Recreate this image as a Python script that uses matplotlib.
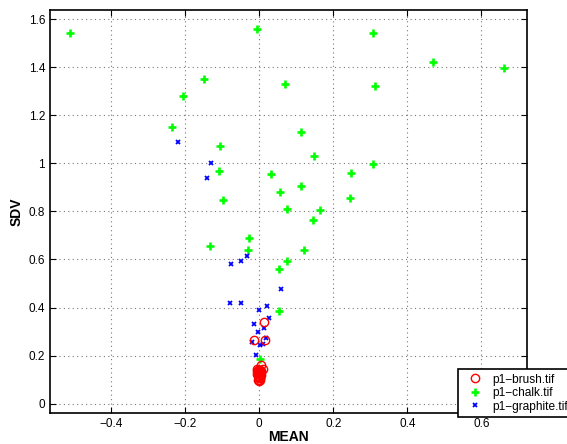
import matplotlib
matplotlib.use('Agg')
import matplotlib.pyplot as plt

plt.rcParams['font.family'] = ['Liberation Sans', 'DejaVu Sans']

# p1-brush.tif
brush_mean = [0.014, -0.013, 0.016, 0.005, 0.011, -0.007,
              -0.006, -0.004, -0.002, 0.0, 0.002, 0.004, 0.006,
              -0.005, -0.003, -0.001, 0.001, 0.003, 0.005,
              -0.004, -0.002, 0.0, 0.002, 0.003, -0.003, 0.0, 0.001]
brush_sdv = [0.339, 0.264, 0.264, 0.162, 0.143, 0.143,
             0.135, 0.138, 0.140, 0.136, 0.139, 0.134, 0.130,
             0.125, 0.128, 0.122, 0.126, 0.120, 0.118,
             0.115, 0.110, 0.112, 0.106, 0.108, 0.100, 0.094, 0.099]

# p1-chalk.tif
chalk_mean = [-0.511, -0.005, 0.306, 0.470, 0.660, -0.149, 0.069, 0.313,
              -0.207, -0.235, 0.114, -0.106, 0.149, 0.306, -0.108, 0.033,
              0.248, 0.057, 0.114, 0.246, -0.098, 0.075, 0.163, 0.144,
              -0.133, -0.028, 0.121, -0.030, 0.054, 0.075, 0.054, 0.002]
chalk_sdv = [1.541, 1.559, 1.541, 1.420, 1.398, 1.349, 1.330, 1.320,
             1.280, 1.150, 1.131, 1.071, 1.032, 0.996, 0.967, 0.954,
             0.961, 0.879, 0.904, 0.854, 0.847, 0.810, 0.804, 0.765,
             0.657, 0.690, 0.638, 0.639, 0.559, 0.594, 0.387, 0.185]

# p1-graphite.tif
graphite_mean = [-0.220, -0.129, -0.141, -0.034, -0.049, -0.077, 0.059,
                 -0.080, -0.049, 0.020, -0.002, 0.027, -0.015, 0.014,
                 -0.004, -0.019, 0.017, 0.001, 0.010, -0.009]
graphite_sdv = [1.090, 1.003, 0.940, 0.616, 0.595, 0.581, 0.477,
                0.420, 0.420, 0.408, 0.391, 0.356, 0.333, 0.316,
                0.298, 0.258, 0.272, 0.243, 0.247, 0.201]

fig = plt.figure(figsize=(5.67, 4.44), dpi=100)
ax = fig.add_axes([0.0882, 0.0698, 0.8413, 0.9077])

ax.plot(brush_mean, brush_sdv, 'o', color='red', mfc='none', ms=6, mew=1,
        label='p1\u2212brush.tif', zorder=3)
ax.plot(chalk_mean, chalk_sdv, '+', color='#00ff00', ms=5.5, mew=1.9,
        label='p1\u2212chalk.tif', zorder=2)
ax.plot(graphite_mean, graphite_sdv, 'x', color='blue', ms=3, mew=1.3,
        label='p1\u2212graphite.tif', zorder=2)

ax.set_xlim(-0.565, 0.723)
ax.set_ylim(-0.039, 1.638)
ax.set_xticks([-0.4, -0.2, 0, 0.2, 0.4, 0.6])
ax.set_xticklabels(['\u22120.4', '\u22120.2', '0', '0.2', '0.4', '0.6'])
ax.set_yticks([0, 0.2, 0.4, 0.6, 0.8, 1, 1.2, 1.4, 1.6])
ax.set_yticklabels(['0', '0.2', '0.4', '0.6', '0.8', '1', '1.2', '1.4', '1.6'])
ax.tick_params(direction='in', top=True, right=True, labelsize=8.5, length=4)
ax.grid(True, linestyle=(0, (1, 3)), color='#777777', linewidth=0.8)
for s in ax.spines.values():
    s.set_linewidth(1.2)

ax.set_xlabel('MEAN', fontsize=10, fontweight='bold', labelpad=0)
ax.set_ylabel('SDV', fontsize=10, fontweight='bold', labelpad=4)

leg = ax.legend(loc='lower left', bbox_to_anchor=(0.808, 0.0615),
                bbox_transform=fig.transFigure, fontsize=8.6, fancybox=False,
                framealpha=1, edgecolor='black', borderpad=0.35,
                borderaxespad=0, labelspacing=0.12, handletextpad=0.3,
                handlelength=2.2, numpoints=1)
leg.get_frame().set_linewidth(1.2)

fig.savefig('out.png', dpi=100)
